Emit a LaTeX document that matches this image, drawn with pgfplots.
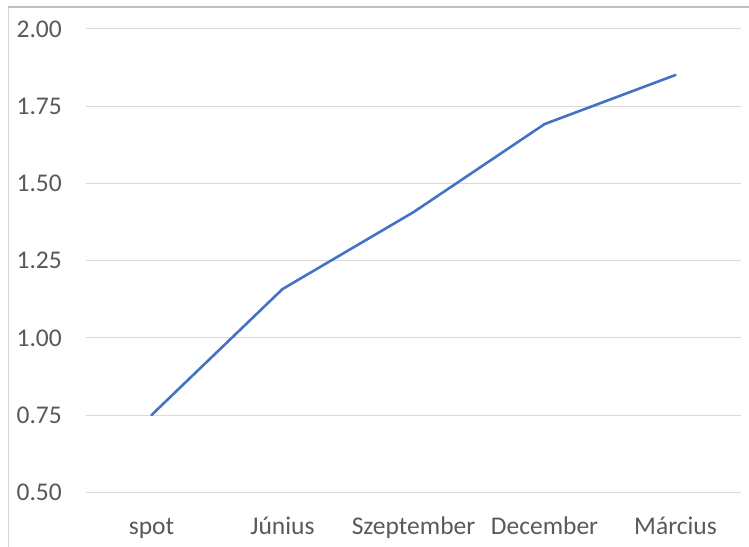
\documentclass[border=0pt]{standalone}
\usepackage{pgfplots}
\pgfplotsset{compat=1.18}
\usepackage{fontspec}
\setmainfont{Carlito}
\definecolor{txt}{HTML}{595959}
\definecolor{grd}{HTML}{D9D9D9}
\definecolor{ln}{HTML}{4472C4}
\definecolor{frm}{HTML}{BFBFBF}
\begin{document}
\fontsize{25.5bp}{30bp}\selectfont
\begin{tikzpicture}[x=1bp,y=1bp]
\useasboundingbox (0,0) rectangle (749,547);
\draw[frm, line width=2bp] (7.5,540) -- (749,540);
\draw[grd!80!frm, line width=1bp] (8,0) -- (8,540);
\begin{axis}[
  at={(86bp,54.7bp)}, anchor=south west,
  scale only axis, width=655bp, height=463.3bp,
  xmin=-0.5, xmax=4.5, ymin=0.5, ymax=2.0,
  xtick=data, xticklabels={spot,Június,Szeptember,December,Március},
  ytick={0.5,0.75,1,1.25,1.5,1.75,2},
  /pgf/number format/assume math mode=true,
  yticklabel style={/pgf/number format/fixed,/pgf/number format/fixed zerofill,/pgf/number format/precision=2},
  axis line style={draw=none},
  major tick length=0pt,
  ymajorgrids, grid style={grd, line width=1bp},
  tick label style={txt, font=\fontsize{25.5bp}{30bp}\selectfont},
  y tick label style={anchor=east, inner sep=0pt, xshift=-24bp},
  x tick label style={anchor=north, inner sep=0pt, text height=18bp, text depth=6bp, yshift=-23.7bp},
  clip=false,
]
\addplot[ln, line width=2.6bp, line join=round, line cap=round, mark=none] coordinates {
(0,0.75) (1,1.158) (2,1.407) (3,1.692) (4,1.851)};
\end{axis}
\end{tikzpicture}
\end{document}
